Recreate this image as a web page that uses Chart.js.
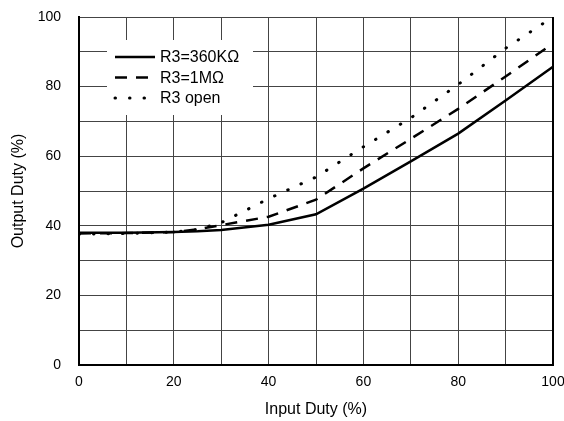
<!DOCTYPE html>
<html>
<head>
<meta charset="utf-8">
<script src="https://cdn.jsdelivr.net/npm/chart.js@4.4.1/dist/chart.umd.min.js"></script>
<style>
  body { margin: 0; background: #fff; }
  #wrap { width: 564px; height: 421px; }
</style>
</head>
<body>
<div id="wrap"><canvas id="dutyChart" width="564" height="421"></canvas></div>
<script>
// values
const inputDuty = [0, 10, 20, 25, 30, 40, 50, 60, 70, 80, 90, 100];
const duty360k  = [38, 38, 38.2, 38.4, 38.8, 40.3, 43.3, 50.7, 58.5, 66.5, 76, 85.7];
const duty1M    = [37.8, 37.9, 38.2, 39, 40.2, 42.6, 47.5, 56.5, 65, 73.6, 82.9, 92.4];
const dutyOpen  = [37.6, 37.8, 38.2, 38.9, 40.9, 47.8, 54, 62.7, 71, 80.6, 91, 100];
const seriesNames = ['R3=360K\u03A9', 'R3=1M\u03A9', 'R3 open'];

function toPoints(ys) {
    return inputDuty.map((x, i) => ({ x: x, y: ys[i] }));
}

const FONT = '"Liberation Sans", Arial, sans-serif';

// legend drawn inside the plot, on a white box
const insideLegend = {
    id: 'insideLegend',
    afterDatasetsDraw(chart) {
        const ctx = chart.ctx;
        const a = chart.chartArea;
        const bx = a.left + 28, by = a.top + 23;
        ctx.save();
        ctx.fillStyle = '#fff';
        ctx.fillRect(bx, by, 146, 75);
        chart.data.datasets.forEach((ds, i) => {
            const y = by + 17 + i * 20.5;
            ctx.beginPath();
            ctx.strokeStyle = ds.borderColor;
            ctx.lineWidth = ds.borderWidth;
            ctx.lineCap = ds.borderCapStyle || 'butt';
            ctx.setLineDash(ds.borderDash || []);
            ctx.moveTo(bx + 8, y);
            ctx.lineTo(bx + 48, y);
            ctx.stroke();
            ctx.setLineDash([]);
            ctx.fillStyle = '#000';
            ctx.font = '16px ' + FONT;
            ctx.textBaseline = 'middle';
            ctx.fillText(ds.label, bx + 53, y + 1);
        });
        ctx.restore();
    },
    afterDraw(chart) {
        // right frame edge
        const ctx = chart.ctx;
        const a = chart.chartArea;
        ctx.save();
        ctx.strokeStyle = '#000';
        ctx.lineWidth = 2;
        ctx.beginPath();
        ctx.moveTo(a.right, a.top);
        ctx.lineTo(a.right, a.bottom);
        ctx.stroke();
        ctx.restore();
    }
};

new Chart(document.getElementById('dutyChart'), {
    type: 'line',
    data: {
        datasets: [
            {
                label: seriesNames[0],
                data: toPoints(duty360k),
                borderColor: '#000',
                borderWidth: 2.5,
                pointRadius: 0,
                tension: 0
            },
            {
                label: seriesNames[1],
                data: toPoints(duty1M),
                borderColor: '#000',
                borderWidth: 2.5,
                borderDash: [12, 9],
                pointRadius: 0,
                tension: 0
            },
            {
                label: seriesNames[2],
                data: toPoints(dutyOpen),
                borderColor: '#000',
                borderWidth: 3,
                borderDash: [0.5, 14],
                borderCapStyle: 'round',
                pointRadius: 0,
                tension: 0
            }
        ]
    },
    options: {
        responsive: false,
        animation: false,
        devicePixelRatio: 1,
        layout: { padding: { left: 0, right: 11, top: 17, bottom: 0 } },
        plugins: {
            legend: { display: false },
            tooltip: { enabled: false }
        },
        scales: {
            x: {
                type: 'linear',
                min: 0,
                max: 100,
                ticks: {
                    stepSize: 10,
                    padding: 9,
                    color: '#000',
                    font: { family: FONT, size: 14 },
                    maxRotation: 0,
                    callback: v => (v % 20 === 0 ? v : '')
                },
                grid: { color: '#444', lineWidth: 1, drawTicks: false },
                border: { color: '#000', width: 2 },
                title: {
                    display: true,
                    text: 'Input Duty (%)',
                    color: '#000',
                    font: { family: FONT, size: 16 },
                    padding: { top: 0, bottom: 1.5 }
                },
                afterFit: s => {
                    s.height = 56;
                    s.paddingLeft = 0;
                    s.paddingRight = 0;
                }
            },
            y: {
                min: 0,
                max: 100,
                ticks: {
                    stepSize: 10,
                    padding: 18,
                    color: '#000',
                    font: { family: FONT, size: 14 },
                    callback: v => (v % 20 === 0 ? v : '')
                },
                grid: { color: '#444', lineWidth: 1, drawTicks: false },
                border: { color: '#000', width: 2 },
                title: {
                    display: true,
                    text: 'Output Duty (%)',
                    color: '#000',
                    font: { family: FONT, size: 16 },
                    padding: { top: 8.5, bottom: 0 }
                },
                afterFit: s => {
                    s.width = 79;
                    s.paddingTop = 0;
                    s.paddingBottom = 0;
                }
            }
        }
    },
    plugins: [insideLegend]
});
</script>
</body>
</html>
